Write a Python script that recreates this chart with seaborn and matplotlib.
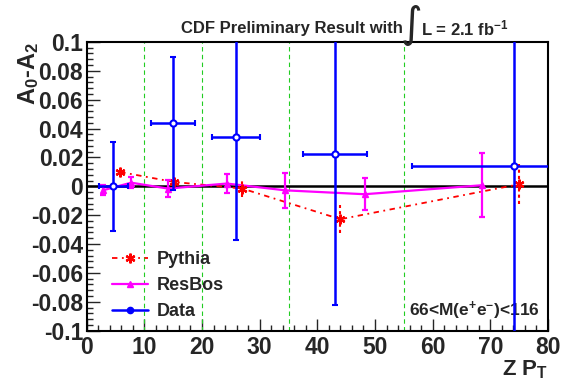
import numpy as np
import pandas as pd
import matplotlib
matplotlib.use("Agg")
import matplotlib.pyplot as plt
from matplotlib.ticker import MultipleLocator, FuncFormatter
from matplotlib.lines import Line2D
import seaborn as sns

# ---- data ----
data_x = [4.6, 15.0, 25.9, 43.1, 74.1]
data_y = [0.0, 0.0436, 0.034, 0.0226, 0.014]
data_xerr = [2.5, 3.8, 4.2, 5.6, 17.7]
data_yerr = [0.031, 0.046, 0.071, 0.105, 0.13]

resbos_x = [2.8, 7.7, 14.1, 24.3, 34.4, 48.2, 68.5]
resbos_y = [-0.0028, 0.0025, -0.0016, 0.0019, -0.0028, -0.0055, 0.0007]
resbos_yerr = [0.0035, 0.004, 0.006, 0.0065, 0.012, 0.011, 0.022]

pythia_x = [5.8, 15.1, 27.0, 44.0, 75.0]
pythia_y = [0.0099, 0.003, -0.0016, -0.0228, 0.0014]
pythia_yerr = [0.002, 0.0037, 0.006, 0.0098, 0.0138]

bin_edges = [10, 20, 35, 55]

sns.set_style("ticks")
plt.rcParams['font.family'] = ['Liberation Sans', 'DejaVu Sans']
plt.rcParams['font.weight'] = 'bold'
plt.rcParams['mathtext.fontset'] = 'custom'
plt.rcParams['mathtext.rm'] = 'Liberation Sans:bold'
plt.rcParams['mathtext.it'] = 'Liberation Sans:bold'
plt.rcParams['mathtext.bf'] = 'Liberation Sans:bold'

W, H = 562, 384
fig = plt.figure(figsize=(5.62, 3.84), dpi=100)
ax = fig.add_axes([0.1543, 0.1388, 0.8207, 0.7522])

ax.set_xlim(0, 80)
ax.set_ylim(-0.1, 0.1)

for xe in bin_edges:
    ax.axvline(xe, color="#22cc22", lw=0.8, ls=(0, (4, 3)), zorder=1)
ax.axhline(0, color="black", lw=1.8, zorder=2)

df_p = pd.DataFrame({"x": pythia_x, "y": pythia_y})
df_r = pd.DataFrame({"x": resbos_x, "y": resbos_y})

pyth_ls = (0, (3, 2.5, 1, 2.5))

# Pythia
sns.lineplot(data=df_p, x="x", y="y", ax=ax, color="red", lw=1.3,
             linestyle=pyth_ls, zorder=4, label="_nolegend_")
eb = ax.errorbar(pythia_x, pythia_y, yerr=pythia_yerr, fmt="none",
                 ecolor="red", elinewidth=1.5, capsize=0, zorder=4)
eb[2][0].set_linestyle((0, (1.5, 1.5)))
ax.plot(pythia_x, pythia_y, ls="none", marker=(6, 2, 0), ms=7, mew=1.6,
        color="red", zorder=5)

# ResBos
sns.lineplot(data=df_r, x="x", y="y", ax=ax, color="magenta", lw=1.6,
             zorder=4, label="_nolegend_")
ax.errorbar(resbos_x, resbos_y, yerr=resbos_yerr, fmt="^", ms=5,
            color="magenta", ecolor="magenta", elinewidth=1.6,
            capsize=2.5, capthick=1.6, zorder=5)

# Data
ax.errorbar(data_x, data_y, xerr=data_xerr, yerr=data_yerr, fmt="o",
            ms=4.5, mfc="white", mec="blue", mew=1.5, color="blue",
            ecolor="blue", elinewidth=1.8, capsize=2.5, capthick=1.8,
            zorder=6)

# legend handles
h_p = Line2D([], [], color="red", lw=1.3, ls=pyth_ls,
             marker=(6, 2, 0), ms=7, mew=1.6)
h_r = Line2D([], [], color="magenta", lw=1.6, marker="^", ms=5)
h_d = Line2D([], [], color="blue", lw=1.8, marker="o", ms=4.5)
leg = ax.legend([h_p, h_r, h_d], ["Pythia", "ResBos", "Data"],
                loc="lower left", bbox_to_anchor=(0.04, 0.012),
                frameon=False, fontsize=13, handlelength=2.0,
                handletextpad=0.45, labelspacing=0.5, borderaxespad=0)

ax.text(0.982, 0.068, r"66<M(e$^{+}$e$^{-}$)<116", transform=ax.transAxes,
        ha="right", va="center", fontsize=12.5, fontweight="bold")

# title with large integral sign
fig.text(403 / W, 1 - 28 / H, "CDF Preliminary Result with",
         ha="right", va="center", fontsize=12, fontweight="bold")
fig.text(411 / W, 1 - 25 / H, "\u222b", ha="center", va="center",
         fontsize=30, family="DejaVu Sans", fontweight="normal")
fig.text(421 / W, 1 - 28 / H, r"L = 2.1 fb$^{-1}$",
         ha="left", va="center", fontsize=12, fontweight="bold")

ax.set_xlabel(r"Z P$_{T}$", fontsize=16, fontweight="bold", loc="right",
              labelpad=0)
ax.set_ylabel(r"A$_{0}$-A$_{2}$", fontsize=17, fontweight="bold", loc="top")
ax.yaxis.set_label_coords(-0.1, 1.0)

ax.xaxis.set_major_locator(MultipleLocator(10))
ax.xaxis.set_minor_locator(MultipleLocator(2))
ax.yaxis.set_major_locator(MultipleLocator(0.02))
ax.yaxis.set_minor_locator(MultipleLocator(0.004))

def yfmt(v, pos):
    if abs(v) < 1e-9:
        return "0"
    return f"{v:.2f}".rstrip("0").rstrip(".")
ax.yaxis.set_major_formatter(FuncFormatter(yfmt))

ax.tick_params(axis="both", which="major", direction="in", length=9,
               width=1.0, labelsize=16.5, pad=2.5, top=False, right=False)
ax.tick_params(axis="x", which="major", pad=3.5)
ax.tick_params(axis="both", which="minor", direction="in", length=4.5,
               width=1.0, top=False, right=False)
for lab in ax.get_xticklabels() + ax.get_yticklabels():
    lab.set_fontweight("bold")

for sp in ax.spines.values():
    sp.set_visible(True)
    sp.set_linewidth(1.5)
    sp.set_color("black")

fig.savefig("out.png", dpi=100)
